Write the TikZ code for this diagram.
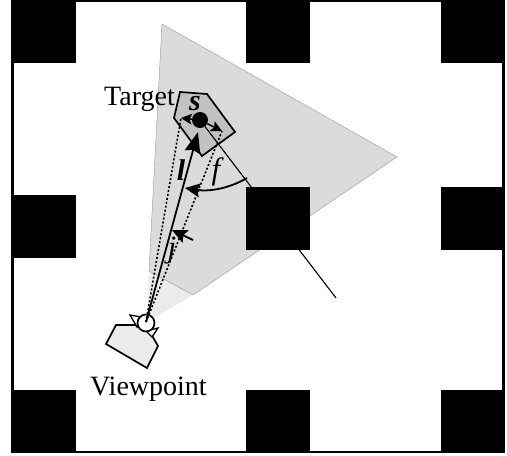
\documentclass[tikz,border=0pt]{standalone}
\usepackage{fontspec}
\setmainfont{Liberation Serif}
\usetikzlibrary{arrows.meta}
\definecolor{conegray}{gray}{0.86}
\definecolor{lightcone}{gray}{0.92}
\definecolor{targetgray}{gray}{0.76}
\tikzset{
  x=1pt,y=-1pt,
  blocksq/.style={fill=black,draw=none},
  lbl/.style={font=\fontsize{28}{30}\selectfont,inner sep=0pt,text=black},
  sym/.style={font=\fontsize{31}{32}\selectfont\itshape,inner sep=0pt,text=black},
  symb/.style={font=\fontsize{30}{32}\selectfont\bfseries\itshape,inner sep=0pt,text=black},
  bigarrow/.style={-{Stealth[length=21pt,width=16pt,inset=2.5pt]},line width=1.8pt},
  midarrow/.style={-{Stealth[length=15pt,width=14pt,inset=2.5pt]},line width=1.8pt},
  smallarrow/.style={-{Stealth[length=11pt,width=11pt,inset=2.5pt]},line width=1.5pt},
  dotline/.style={line width=1.6pt,dash pattern=on 2pt off 2pt},
  outline/.style={draw=black,line width=1.7pt,line join=miter}
}
\begin{document}
\begin{tikzpicture}
\useasboundingbox (0,0) rectangle (507,456);
\fill[white] (0,0) rectangle (507,456);
\draw[line width=2.4pt] (12.5,1) rectangle (503.5,452);
% view cones
\fill[lightcone] (149,271) -- (193,295) -- (147,322) -- cycle;
\fill[conegray,draw=gray!80,line width=.4pt] (162,24) -- (397,157) -- (193,295) -- (149,271) -- cycle;
\coordinate (farend) at (336,298);
% target
\draw[outline,fill=targetgray] (180,92) -- (207,94) -- (235,132) -- (202,156) -- (174,118) -- cycle;
% black squares
\foreach \x/\y in {12/0,246/0,441/0,12/195,246/187,441/187,12/390,246/390,441/390}
  \fill[blocksq] (\x,\y) rectangle +(63.5,63);
% target dot and viewpoint
\node[circle,fill=black,minimum size=16pt,inner sep=0pt] (dot) at (200,120) {};
\draw[fill=lightcone,outline] (116,325) -- (135,325) -- (150,332) -- (158,346) -- (147,368) -- (106,344) -- cycle;
\draw[fill=white,line width=1.3pt] (130,315) -- (137,327) -- (141,317) -- cycle;
\draw[fill=white,line width=1.3pt] (158,328) -- (146,331) -- (152,337) -- cycle;
\node[circle,draw=black,fill=white,line width=1.7pt,minimum size=17pt,inner sep=0pt] (eye) at (146,323) {};
\coordinate (eyec) at (146,322);
\coordinate (sleft) at (181,118);
\coordinate (sright) at (222,131);
\coordinate (ltip) at (198,132);
\draw[dotline] (eyec) -- (sleft);
\draw[dotline] (eyec) -- (sright);
\draw[bigarrow] (eyec) -- (ltip);
\draw[smallarrow] (dot) -- (sleft);
\draw[smallarrow] (dot) -- (sright);
\draw[line width=1.1pt] (dot) -- (farend);
\coordinate (jtail) at (193,240);
\coordinate (jtip) at (172,230);
\draw[midarrow] (jtail) -- (jtip);
\coordinate (fstart) at (247,178);
\coordinate (ftip) at (185,188);
\draw[midarrow] (fstart) .. controls (230,188) and (210,192) .. (ftip);
% labels
\node[lbl,anchor=base west] (target) at (104,105) {Target};
\node[lbl,anchor=base west] (viewpoint) at (90,395) {Viewpoint};
\node[symb] (s) at (195,104) {s};
\node[symb] (l) at (181,170) {l};
\node[sym] (f) at (216,172) {f};
\node[sym] (j) at (172,251) {j};
\end{tikzpicture}
\end{document}
